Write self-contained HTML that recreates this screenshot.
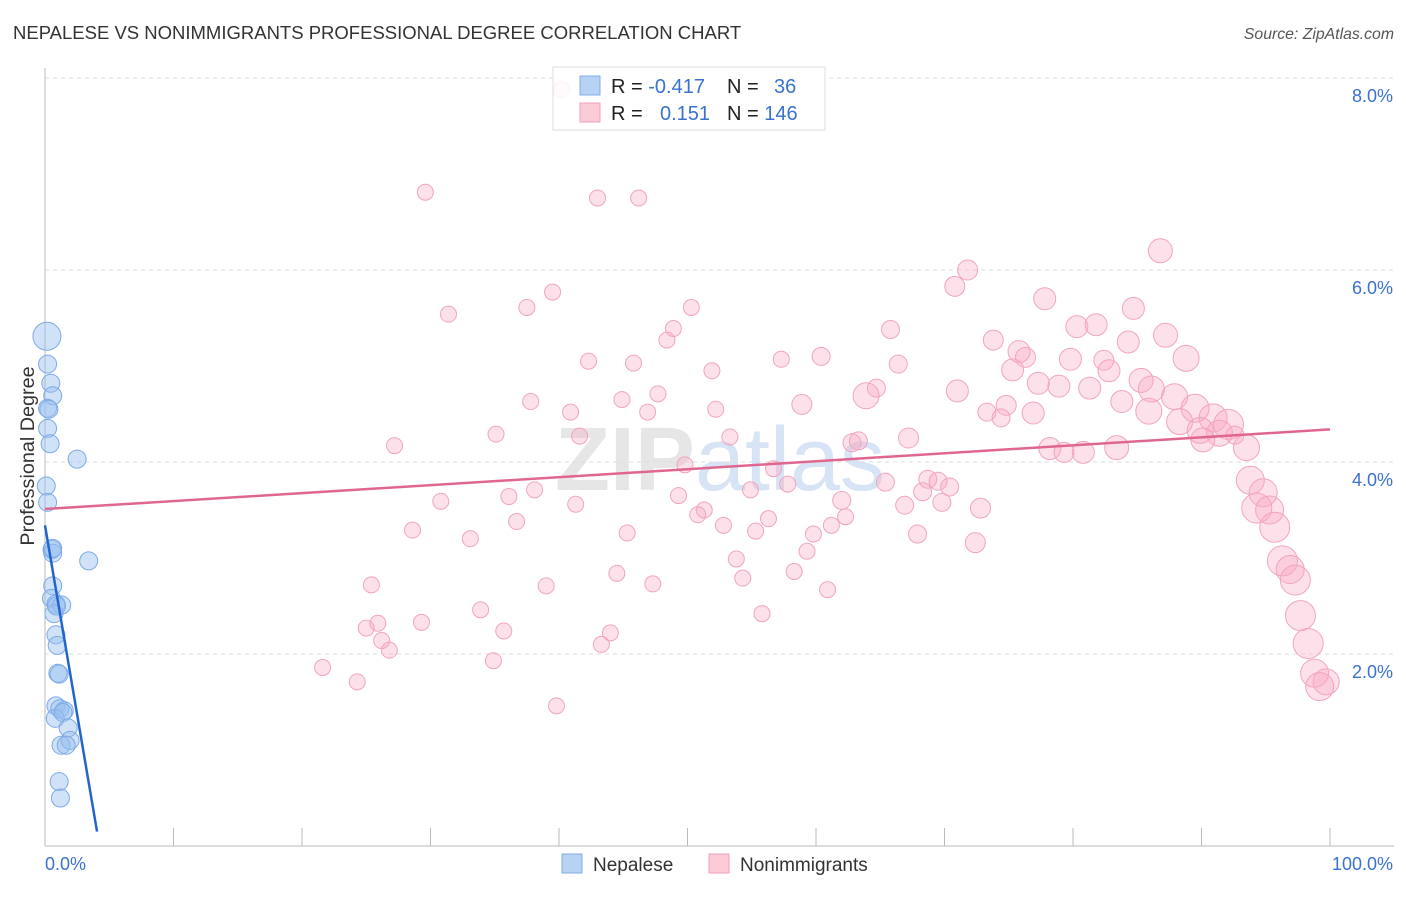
<!DOCTYPE html>
<html><head><meta charset="utf-8"><style>
body{margin:0;background:#fff;font-family:"Liberation Sans",sans-serif;}
svg text{font-family:"Liberation Sans",sans-serif;}
</style></head><body>
<svg id="chart" width="1406" height="892" viewBox="0 0 1406 892" xmlns="http://www.w3.org/2000/svg">
<text x="13" y="39" font-size="18.5" fill="#333">NEPALESE VS NONIMMIGRANTS PROFESSIONAL DEGREE CORRELATION CHART</text>
<text x="1394" y="39" font-size="15.8" fill="#555" text-anchor="end" font-style="italic">Source: ZipAtlas.com</text>
<text x="720" y="490" font-size="90" fill="#e6e6e6" text-anchor="middle" font-family="Liberation Serif" font-weight="bold">ZIP<tspan fill="#d6e4f5" font-family="Liberation Sans" font-weight="normal">atlas</tspan></text>
<g id="grid"></g>
<g id="axes"></g>
<g id="pink"></g>
<g id="blue"></g>
<g id="trends"></g>
<text transform="translate(34,456) rotate(-90)" font-size="19.8" fill="#333" text-anchor="middle">Professional Degree</text>
<g>
<rect x="553" y="67" width="272" height="63" fill="rgba(255,255,255,0.85)" stroke="#ddd"/>
<rect x="580" y="76" width="20" height="19" fill="#b8d2f3" stroke="#80aee8"/>
<rect x="580" y="103" width="20" height="19" fill="#fccbd8" stroke="#f0a0b8"/>
<text x="611" y="93" font-size="20" fill="#222">R = <tspan fill="#3a72d0">-0.417</tspan></text>
<text x="727" y="93" font-size="20" fill="#222">N = <tspan fill="#3a72d0" x="774">36</tspan></text>
<text x="611" y="120" font-size="20" fill="#222">R = <tspan fill="#3a72d0" x="660">0.151</tspan></text>
<text x="727" y="120" font-size="20" fill="#222">N = <tspan fill="#3a72d0">146</tspan></text>
</g>
<g>
<rect x="562" y="854" width="20" height="19" fill="#b8d2f3" stroke="#80aee8"/>
<text x="593" y="871" font-size="19" fill="#333">Nepalese</text>
<rect x="709" y="854" width="20" height="19" fill="#fccbd8" stroke="#f0a0b8"/>
<text x="740" y="871" font-size="19" fill="#333">Nonimmigrants</text>
</g>
</svg>
<script>
const yTicks=[2,4,6,8];
const yTickLabels=["2.0%","4.0%","6.0%","8.0%"];
const xTickLabels=["0.0%","100.0%"];
const blueX=[0.15,0.2,0.45,0.6,0.2,0.3,0.2,0.4,2.5,0.1,0.2,0.55,0.6,3.4,0.6,0.5,0.85,1.3,0.7,0.85,0.95,1.0,1.1,0.85,1.15,1.5,0.8,1.4,1.8,1.25,1.95,1.65,1.1,1.2,0.6,0.9];
const blueY=[5.31,5.02,4.82,4.69,4.56,4.55,4.35,4.19,4.03,3.75,3.58,3.09,3.05,2.97,2.71,2.58,2.52,2.51,2.42,2.2,2.09,1.8,1.79,1.46,1.43,1.41,1.33,1.39,1.23,1.05,1.1,1.05,0.67,0.5,3.1,2.5];
const blueS=[14,9,9,9,9,9,9,9,9,9,9,9,9,9,9,9,9,9,9,9,9,9,9,9,9,9,9,9,9,9,9,9,9,9,9,9];
const pinkX=[40.2,29.6,43.0,46.2,86.8,71.8,70.8,39.5,31.4,37.5,50.3,77.8,84.7,48.9,48.4,65.8,80.3,81.8,87.2,73.8,84.3,42.3,45.8,57.3,60.4,66.4,75.8,76.3,79.8,82.4,88.8,51.9,75.3,82.8,85.3,47.7,64.7,63.9,71.0,77.3,78.9,81.3,86.1,87.9,37.8,44.9,58.9,74.8,83.8,40.9,46.9,52.2,73.3,74.4,76.9,85.9,89.5,90.9,88.3,92.1,89.9,91.4,92.6,90.1,35.1,41.6,53.3,62.8,63.3,67.2,27.2,78.2,79.3,80.8,83.4,93.5,49.8,56.7,93.8,65.4,68.7,69.5,70.4,57.8,54.9,38.1,68.3,36.1,49.3,30.8,94.8,62.0,41.3,69.8,51.3,72.8,66.9,94.3,95.3,50.8,62.3,56.3,36.7,52.8,61.2,28.6,55.3,95.7,59.8,45.3,67.9,33.1,72.4,59.3,53.8,96.3,96.9,44.5,58.3,54.3,97.3,25.4,39.0,47.3,60.9,97.7,33.9,55.8,25.9,29.3,25.0,35.7,44.0,26.2,43.3,98.3,26.8,34.9,21.6,98.8,99.7,99.2,24.3,39.8];
const pinkY=[7.88,6.81,6.75,6.75,6.20,6.00,5.83,5.77,5.54,5.61,5.61,5.70,5.60,5.39,5.27,5.38,5.41,5.43,5.32,5.27,5.25,5.05,5.03,5.07,5.10,5.02,5.15,5.09,5.07,5.06,5.08,4.95,4.96,4.95,4.85,4.71,4.77,4.69,4.74,4.82,4.79,4.77,4.76,4.68,4.63,4.65,4.60,4.59,4.63,4.52,4.52,4.55,4.52,4.46,4.51,4.53,4.56,4.46,4.42,4.39,4.33,4.30,4.28,4.23,4.29,4.27,4.26,4.20,4.22,4.25,4.17,4.14,4.10,4.10,4.15,4.15,3.97,3.93,3.81,3.79,3.82,3.80,3.74,3.77,3.71,3.71,3.69,3.64,3.65,3.59,3.68,3.60,3.56,3.58,3.50,3.52,3.55,3.52,3.50,3.45,3.43,3.41,3.38,3.34,3.34,3.29,3.28,3.32,3.25,3.26,3.25,3.20,3.16,3.07,2.99,2.97,2.88,2.84,2.86,2.79,2.77,2.72,2.71,2.73,2.67,2.40,2.46,2.42,2.32,2.33,2.27,2.24,2.22,2.14,2.10,2.11,2.04,1.93,1.86,1.80,1.71,1.66,1.71,1.46];
const pinkS=[8,8,8,8,12,10,10,8,8,8,8,11,11,8,8,9,11,11,12,10,11,8,8,8,9,9,11,10,11,10,13,8,11,11,12,8,9,13,11,11,11,11,13,13,8,8,10,10,11,8,8,8,9,9,11,13,14,14,13,15,13,13,9,12,8,8,8,9,9,10,8,11,10,11,12,13,8,8,14,9,9,9,9,8,8,8,9,8,8,8,14,9,8,9,8,10,9,15,14,8,8,8,8,8,8,8,8,15,8,8,9,8,10,8,8,15,14,8,8,8,15,8,8,8,8,15,8,8,8,8,8,8,8,8,8,15,8,8,8,14,13,14,8,8];
const blueTrend=[[0,3.34],[4.05,0.15]];
const pinkTrend=[[0,3.51],[100,4.34]];

const NS="http://www.w3.org/2000/svg";
const X0=45,X1=1330,Y0=846,PPU=96;
const xs=v=>X0+(X1-X0)*v/100;
const ys=v=>Y0-v*PPU;
function mk(tag,attrs,parent){const e=document.createElementNS(NS,tag);for(const k in attrs)e.setAttribute(k,attrs[k]);parent.appendChild(e);return e;}
const grid=document.getElementById('grid'),axes=document.getElementById('axes');
yTicks.forEach((t,i)=>{
  const l=mk('line',{x1:X0,x2:1394,y1:ys(t),y2:ys(t),stroke:'#ddd','stroke-dasharray':'4,4'},grid);
  
  
  const tx=mk('text',{x:1393,y:ys(t)+24,'font-size':18,fill:'#3a72d0','text-anchor':'end'},axes);
  tx.textContent=yTickLabels[i];
  
  
});
mk('line',{x1:X0,x2:X0,y1:68,y2:846,stroke:'#bbb'},axes);
mk('line',{x1:X0,x2:1394,y1:846,y2:846,stroke:'#bbb'},axes);
for(let i=0;i<=10;i++){const x=xs(i*10);mk('line',{x1:x,x2:x,y1:828,y2:846,stroke:'#bbb'},axes);}
const xl0=mk('text',{x:45,y:870,'font-size':18,fill:'#3a72d0'},axes);xl0.textContent=xTickLabels[0];


const xl1=mk('text',{x:1393,y:870,'font-size':18,fill:'#3a72d0','text-anchor':'end'},axes);xl1.textContent=xTickLabels[1];


const pg=document.getElementById('pink');
pinkX.forEach((v,i)=>{const c=mk('circle',{cx:xs(v),cy:ys(pinkY[i]),r:pinkS[i],fill:'rgba(248,170,195,0.35)',stroke:'#f2a5bd','stroke-width':1},pg);

});
const bg=document.getElementById('blue');
blueX.forEach((v,i)=>{const c=mk('circle',{cx:xs(v),cy:ys(blueY[i]),r:blueS[i],fill:'rgba(150,190,240,0.45)',stroke:'#7eaae6','stroke-width':1},bg);

});
const tg=document.getElementById('trends');
const bt=mk('line',{x1:xs(blueTrend[0][0]),y1:ys(blueTrend[0][1]),x2:xs(blueTrend[1][0]),y2:ys(blueTrend[1][1]),stroke:'#2266cc','stroke-width':2.5},tg);


const pt=mk('line',{x1:xs(pinkTrend[0][0]),y1:ys(pinkTrend[0][1]),x2:xs(pinkTrend[1][0]),y2:ys(pinkTrend[1][1]),stroke:'#e06690','stroke-width':2.5},tg);


</script>
</body></html>
